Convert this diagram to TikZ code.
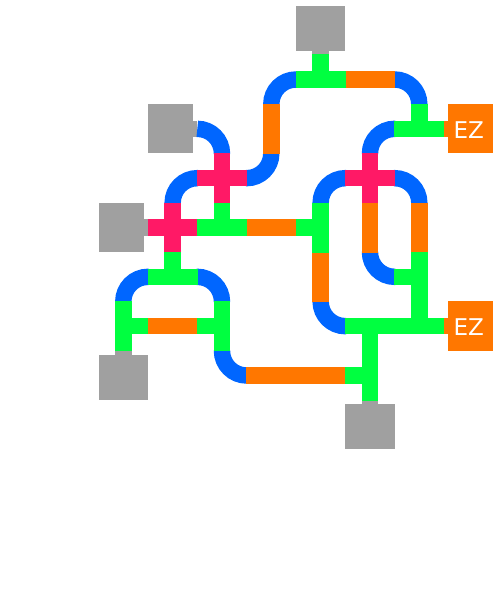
\documentclass[tikz,border=0pt]{standalone}
\usepackage{fontspec}
\setmainfont{DejaVu Sans}
\definecolor{pgreen}{RGB}{0,255,64}
\definecolor{pblue}{RGB}{0,102,255}
\definecolor{porange}{RGB}{255,119,0}
\definecolor{ppink}{RGB}{255,25,102}
\definecolor{pgray}{RGB}{160,160,160}
\tikzset{
  pipe/.style={line width=12.3pt,line cap=butt,line join=miter},
  lapped/.style={shorten <=-0.25pt,shorten >=-0.25pt},
  gp/.style={pipe,lapped,draw=pgreen},
  op/.style={pipe,lapped,draw=porange},
  pp/.style={pipe,draw=ppink},
  bp/.style={pipe,draw=pblue,rounded corners=18.5pt},
  sg/.style={pipe,draw=pgray},
  graybox/.style={fill=pgray,draw=none,inner sep=0pt,outer sep=0pt},
  ezbox/.style={fill=porange,draw=none,inner sep=0pt,outer sep=0pt,minimum width=34pt,minimum height=37pt},
  eztext/.style={text=white,inner sep=0pt,font=\fontsize{17.3pt}{17.3pt}\selectfont}
}
\begin{document}
\begin{tikzpicture}[x=0.75pt,y=-0.75pt]
\useasboundingbox (0,0) rectangle (495,599);
\node[graybox,minimum width=36.9pt,minimum height=33.9pt] (top) at (320.5,28.2) {};
\node[graybox,minimum width=34pt,minimum height=36.9pt] (left1) at (170.7,128.8) {};
\node[graybox,minimum width=34pt,minimum height=36.9pt] (left2) at (121.3,227.5) {};
\node[graybox,minimum width=36.9pt,minimum height=33.9pt] (low1) at (123.3,377.5) {};
\node[graybox,minimum width=36.9pt,minimum height=34pt] (low2) at (370,426.7) {};
\node[ezbox] (ez1) at (470.7,128.8) {};
\node[ezbox] (ez2) at (470.7,326.1) {};
\node[eztext] (ez1label) at (468.8,130.2) {EZ};
\node[eztext] (ez2label) at (468.8,327.5) {EZ};
\begin{scope}[shift={(123.3,79.5)},x=18.5pt,y=-18.5pt]
  % stubs joining boxes to the network
  \coordinate (stubTop) at (8,-1);
  \coordinate (stubL1) at (3,2);
  \coordinate (stubL2) at (1,6);
  \coordinate (stubLow1) at (0,11);
  \coordinate (stubLow2) at (10,13);
  \coordinate (stubE1) at (13,2);
  \coordinate (stubE2) at (13,10);
  \draw[sg] (stubTop) -- (stubTop |- top.south);
  \draw[sg] (stubL1) -- (stubL1 -| left1.east);
  \draw[sg] (stubL2) -- (stubL2 -| left2.east);
  \draw[sg] (stubLow1) -- (stubLow1 |- low1.north);
  \draw[sg] (stubLow2) -- (stubLow2 |- low2.north);
  \draw[pipe,draw=porange] (stubE1) -- (stubE1 -| ez1.west);
  \draw[pipe,draw=porange] (stubE2) -- (stubE2 -| ez2.west);
  % curves, each with a hair of straight overlap at its ends
  \draw[bp] (7.03,0) -| (6,1.03);
  \draw[bp] (10.97,0) -| (12,1.03);
  \draw[bp] (3,2) -| (4,3.03);
  \draw[bp] (11.03,2) -| (10,3.03);
  \draw[bp] (3.03,4) -| (2,5.03);
  \draw[bp] (4.97,4) -| (6,2.97);
  \draw[bp] (9.03,4) -| (8,5.03);
  \draw[bp] (10.97,4) -| (12,5.03);
  \draw[bp] (1.03,8) -| (0,9.03);
  \draw[bp] (2.97,8) -| (4,9.03);
  \draw[bp] (10,6.97) |- (11.03,8);
  \draw[bp] (8,8.97) |- (9.03,10);
  \draw[bp] (4,10.97) |- (5.03,12);
  % straights
  \draw[op] (9,0) -- (11,0);
  \draw[op] (6,1) -- (6,3);
  \draw[op] (5,6) -- (7,6);
  \draw[op] (10,5) -- (10,7);
  \draw[op] (12,5) -- (12,7);
  \draw[op] (8,7) -- (8,9);
  \draw[op] (1,10) -- (3,10);
  \draw[op] (5,12) -- (9,12);
  % tees
  \draw[gp] (7,0) -- (9,0); \draw[gp] (8,-1) -- (8,0);
  \draw[gp] (11,2) -- (13,2); \draw[gp] (12,1) -- (12,2);
  \draw[gp] (3,6) -- (5,6); \draw[gp] (4,5) -- (4,6);
  \draw[gp] (7,6) -- (8,6); \draw[gp] (8,5) -- (8,7);
  \draw[gp] (1,8) -- (3,8); \draw[gp] (2,7) -- (2,8);
  \draw[gp] (11,8) -- (12,8); \draw[gp] (12,7) -- (12,9);
  \draw[gp] (0,9) -- (0,11); \draw[gp] (0,10) -- (1,10);
  \draw[gp] (3,10) -- (4,10); \draw[gp] (4,9) -- (4,11);
  \draw[gp] (9,10) -- (13,10); \draw[gp] (10,10) -- (10,11); \draw[gp] (12,9) -- (12,10);
  \draw[gp] (9,12) -- (10,12); \draw[gp] (10,11) -- (10,13);
  % crosses
  \draw[pp] (3,4) -- (5,4); \draw[pp] (4,3) -- (4,5);
  \draw[pp] (9,4) -- (11,4); \draw[pp] (10,3) -- (10,5);
  \draw[pp] (1,6) -- (3,6); \draw[pp] (2,5) -- (2,7);
\end{scope}
\end{tikzpicture}
\end{document}
